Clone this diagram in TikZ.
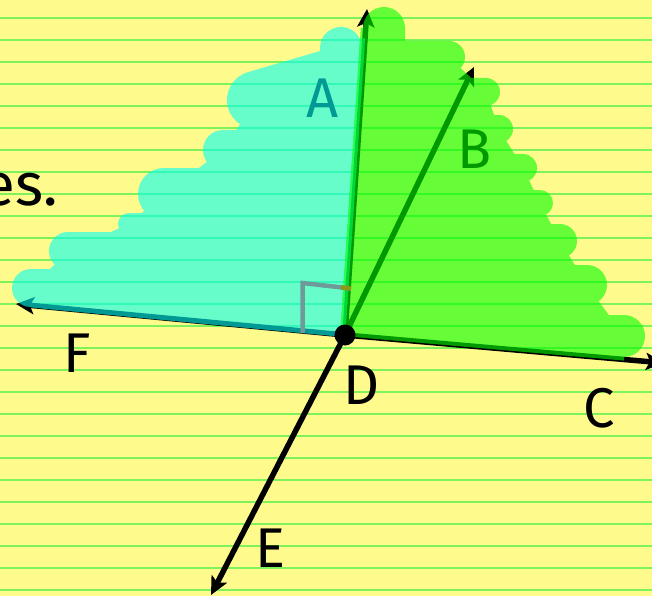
\documentclass[tikz,border=0pt]{standalone}
\usepackage{fontspec}
\setmainfont{Fira Sans}
\usetikzlibrary{arrows.meta}
\definecolor{paper}{RGB}{255,250,140}
\definecolor{ruleline}{RGB}{125,242,90}
\definecolor{hlcyan}{RGB}{0,255,245}
\definecolor{hlgreen}{RGB}{0,255,0}
\definecolor{marka}{RGB}{110,154,154}
\definecolor{markb}{RGB}{140,154,20}
\tikzset{
  ray/.style={line width=5.5pt, -{Stealth[length=18pt,width=17pt,inset=4pt]}},
  lbl/.style={font=\fontsize{56}{60}\selectfont, inner sep=0pt},
  band/.style={line cap=round},
}
\begin{document}
\begin{tikzpicture}[x=1pt,y=-1pt]
\useasboundingbox (0,0) rectangle (652,596);
\fill[paper] (0,0) rectangle (652,596);
\foreach \k in {0,...,26} \draw[ruleline, line width=2.2pt] (0,17.7+22*\k) -- (652,17.7+22*\k);

\node[lbl, font=\fontsize{60}{64}\selectfont, anchor=base east] (es) at (58,205) {es.};

\coordinate (D) at (345,335);
\coordinate (At) at (367,9);
\coordinate (Bt) at (474,67);
\coordinate (Ct) at (664,363);
\coordinate (Et) at (211,595);
\coordinate (Ft) at (16,304);
\draw[ray] (D) -- (At);
\draw[ray] (D) -- (Bt);
\draw[ray] (D) -- (Ct);
\draw[ray] (D) -- (Et);
\draw[ray] (D) -- (Ft);

\node[lbl] (A) at (323,98) {A};
\node[lbl] (B) at (475,149) {B};
\node[lbl] (C) at (599,408) {C};
\node[lbl] (Dl) at (362,385) {D};
\node[lbl] (E) at (270,548) {E};
\node[lbl] (F) at (77,353) {F};

% cyan highlight
\begin{scope}[transparency group, opacity=0.6]
  \clip (-100,295) -- (329.1,335.5) .. controls (345,337) .. (346.1,321.0) -- (374.4,-100) -- (-100,-100) -- cycle;
  \fill[hlcyan] (341,48) -- (256,100) -- (223,150) -- (164,194) -- (129,224) -- (68,251) -- (31,288) -- (31,340) -- (420,340) -- (420,48) -- cycle;
  \draw[hlcyan, band, line width=40pt] (60,318) -- (420,318);
  \draw[hlcyan, band, line width=38pt] (31,288) -- (420,288);
  \draw[hlcyan, band, line width=38pt] (68,251) -- (420,251);
  \draw[hlcyan, band, line width=22pt] (129,224) -- (420,224);
  \draw[hlcyan, band, line width=52pt] (164,194) -- (420,194);
  \draw[hlcyan, band, line width=40pt] (223,150) -- (420,150);
  \draw[hlcyan, band, line width=58pt] (256,100) -- (420,52);
  \draw[hlcyan, band, line width=42pt] (341,48) -- (341,80);
\end{scope}

% green highlight
\begin{scope}[transparency group, opacity=0.6]
  \clip (369.4,-100) -- (341.1,319.6) .. controls (340,335.6) .. (355.9,337.0) -- (800,376) -- (800,-100) -- cycle;
  \fill[hlgreen] (330,28) -- (384,28) -- (384,60) -- (449,57) -- (486,92) -- (499,129) -- (523,168) -- (540,203) -- (560,241) -- (587,285) -- (624,336) -- (624,400) -- (330,400) -- cycle;
  \draw[hlgreen, band, line width=42pt] (384,28) -- (384,80);
  \draw[hlgreen, band, line width=32pt] (449,57) -- (330,57);
  \draw[hlgreen, band, line width=28pt] (486,92) -- (330,92);
  \draw[hlgreen, band, line width=28pt] (499,129) -- (330,129);
  \draw[hlgreen, band, line width=28pt] (523,168) -- (330,168);
  \draw[hlgreen, band, line width=26pt] (540,203) -- (330,203);
  \draw[hlgreen, band, line width=34pt] (560,241) -- (330,241);
  \draw[hlgreen, band, line width=40pt] (587,285) -- (330,285);
  \draw[hlgreen, band, line width=42pt] (624,336) -- (330,336);
\end{scope}

% right-angle mark
\draw[marka, line width=4.5pt] (351,288.5) -- (302.5,283) -- (302.5,333);
\draw[markb, line width=4.5pt] (341,287.4) -- (351,288.5);

\fill (D) circle (10.5);
\end{tikzpicture}
\end{document}
